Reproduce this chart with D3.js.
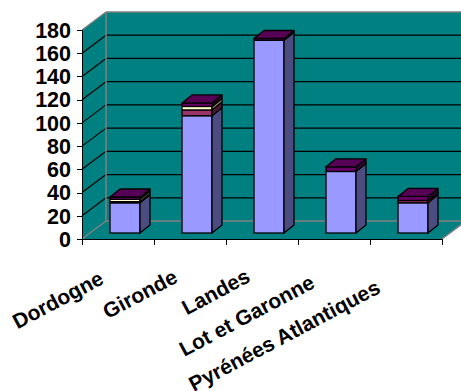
<!DOCTYPE html>
<html><head><meta charset="utf-8">
<script src="https://cdn.jsdelivr.net/npm/d3@7"></script>
<style>html,body{margin:0;padding:0;background:#fff;}svg{display:block;}</style>
</head><body>
<svg id="chart" width="461" height="391"></svg>
<script>
const categories = ["Dordogne","Gironde","Landes","Lot et Garonne","Pyrénées Atlantiques"];
const seriesBlue   = [26, 101, 166, 53, 26];
const seriesPlum   = [1, 5, 0, 0, 2];
const seriesCream  = [2, 3, 0, 0, 0];
const seriesPurple = [2, 3, 1.5, 4, 3.5];
const yTicks = [0,20,40,60,80,100,120,140,160,180];

const frontColors = ["#9999FF","#993366","#FFFFCC","#660066"];
const sideColors  = ["#4C4C80","#4D1933","#808066","#330033"];
const topColor = "#560056";
const teal = "#008080", gray = "#808080";

const svg = d3.select("#chart");
const x = d3.scaleBand().domain(categories).range([82, 442]);
const y = d3.scaleLinear().domain([0, 180]).range([239, 30]);
const DX = 24, DY = -18;          // wall depth
const BX = 7, BY = -6;            // bar front offset
const BDX = 10, BDY = -8;         // bar depth
const BW = 30;                    // bar front width

const x0 = x.range()[0], x1 = x.range()[1];
const yb = y(0), yt = y(180);
const pts = a => a.map(p => p.join(",")).join(" ");

// walls
svg.append("polygon").attr("points", pts([[x0,yb],[x0,yt],[x0+DX,yt+DY],[x0+DX,yb+DY]])).attr("fill", teal);
svg.append("polygon").attr("points", pts([[x0+DX,yt+DY],[x1+DX,yt+DY],[x1+DX,yb+DY],[x0+DX,yb+DY]])).attr("fill", teal);
svg.append("polygon").attr("points", pts([[x0,yb],[x1,yb],[x1+DX,yb+DY],[x0+DX,yb+DY]])).attr("fill", teal);

// gridlines
const inner = yTicks.filter(t => t > 0 && t < 180);
svg.selectAll(".gs").data(inner).join("line")
  .attr("x1", x0).attr("y1", d => y(d)).attr("x2", x0+DX).attr("y2", d => y(d)+DY)
  .attr("stroke", "#000").attr("stroke-width", 1.2);
svg.selectAll(".gb").data(inner).join("line")
  .attr("x1", x0+DX).attr("y1", d => y(d)+DY).attr("x2", x1+DX).attr("y2", d => y(d)+DY)
  .attr("stroke", "#000").attr("stroke-width", 1.2);

// gray edges
const edges = [
  [[x0,yt],[x0+DX,yt+DY]],
  [[x0+DX,yt+DY],[x1+DX,yt+DY]],
  [[x0+DX,yt+DY],[x0+DX,yb+DY]],
  [[x0+DX,yb+DY],[x1+DX,yb+DY]],
  [[x0,yb],[x0+DX,yb+DY]],
  [[x1,yb],[x1+DX,yb+DY]]
];
svg.selectAll(".edge").data(edges).join("line")
  .attr("x1", d => d[0][0]).attr("y1", d => d[0][1]).attr("x2", d => d[1][0]).attr("y2", d => d[1][1])
  .attr("stroke", gray).attr("stroke-width", 1.5);

// axes
svg.append("line").attr("x1", x0+0.5).attr("x2", x0+0.5).attr("y1", yt).attr("y2", yb+1).attr("stroke","#000").attr("stroke-width",1);
svg.append("line").attr("x1", x0).attr("x2", x1).attr("y1", yb+0.5).attr("y2", yb+0.5).attr("stroke","#000").attr("stroke-width",1);
svg.selectAll(".yt").data(yTicks).join("line")
  .attr("x1", x0-5).attr("x2", x0).attr("y1", d => Math.round(y(d))+0.5).attr("y2", d => Math.round(y(d))+0.5)
  .attr("stroke","#000");
svg.selectAll(".yl").data(yTicks).join("text")
  .attr("x", x0-11).attr("y", d => y(d)).attr("dy","0.36em")
  .attr("text-anchor","end")
  .attr("font-family","Liberation Sans, Arial, sans-serif").attr("font-weight","bold").attr("font-size", 21.5)
  .text(d => d);
const bounds = categories.map(c => x(c)).concat([x1]);
svg.selectAll(".xt").data(bounds).join("line")
  .attr("x1", d => Math.round(d)+0.5).attr("x2", d => Math.round(d)+0.5).attr("y1", yb).attr("y2", yb+6)
  .attr("stroke","#000");

// bars
const stackData = categories.map((c,i) => ({cat:c, s0:seriesBlue[i], s1:seriesPlum[i], s2:seriesCream[i], s3:seriesPurple[i]}));
const stack = d3.stack().keys(["s0","s1","s2","s3"])(stackData);
categories.forEach((c, i) => {
  const bx = x(c) + x.bandwidth()/2 - BW/2 + BX;
  const g = svg.append("g");
  let topVal = 0;
  stack.forEach((layer, k) => {
    const [lo, hi] = layer[i];
    if (hi - lo <= 0) return;
    topVal = hi;
    const ylo = y(lo) + BY, yhi = y(hi) + BY;
    g.append("rect").attr("x", bx).attr("y", yhi).attr("width", BW).attr("height", ylo - yhi)
      .attr("fill", frontColors[k]).attr("stroke","#000").attr("stroke-width",1.3);
    g.append("polygon").attr("points", pts([[bx+BW,yhi],[bx+BW+BDX,yhi+BDY],[bx+BW+BDX,ylo+BDY],[bx+BW,ylo]]))
      .attr("fill", sideColors[k]).attr("stroke","#000").attr("stroke-width",1.3).attr("stroke-linejoin","round");
  });
  const ytop = y(topVal) + BY;
  g.append("polygon").attr("points", pts([[bx,ytop],[bx+BW,ytop],[bx+BW+BDX,ytop+BDY],[bx+BDX,ytop+BDY]]))
    .attr("fill", topColor).attr("stroke","#000").attr("stroke-width",1.3).attr("stroke-linejoin","round");
});

// category labels
svg.selectAll(".xl").data(categories).join("text")
  .attr("text-anchor","end")
  .attr("font-family","Liberation Sans, Arial, sans-serif").attr("font-weight","bold").attr("font-size", 21)
  .text(d => d)
  .each(function(d){
    const L = this.getComputedTextLength();
    const cx = x(d) + x.bandwidth()/2;
    d3.select(this).attr("transform", `translate(${cx - 3 - 0.1*L},${275 + 0.08*L}) rotate(-28)`);
  });
</script>
</body></html>
